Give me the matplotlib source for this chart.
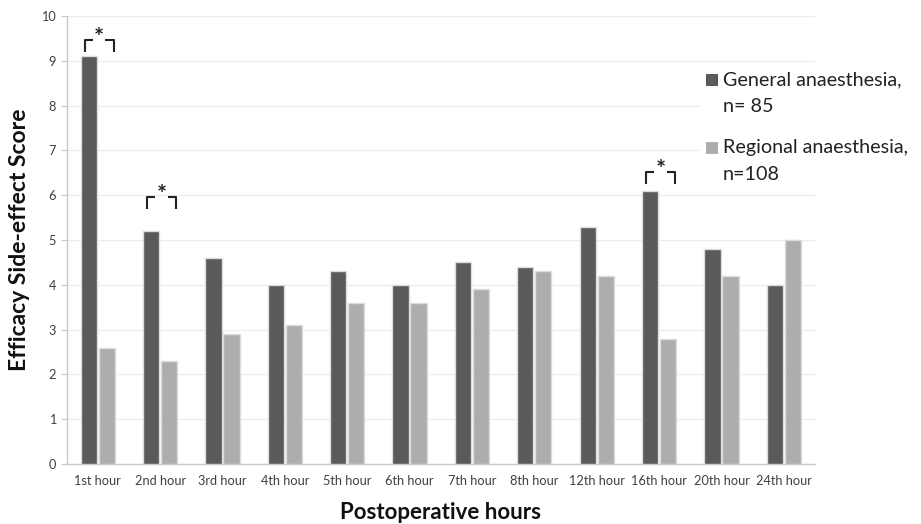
import matplotlib
matplotlib.use("Agg")
import matplotlib.pyplot as plt
from matplotlib.patches import Rectangle
import numpy as np

categories = ["1st hour", "2nd hour", "3rd hour", "4th hour", "5th hour", "6th hour",
              "7th hour", "8th hour", "12th hour", "16th hour", "20th hour", "24th hour"]
general = [9.1, 5.2, 4.6, 4.0, 4.3, 4.0, 4.5, 4.4, 5.3, 6.1, 4.8, 4.0]
regional = [2.6, 2.3, 2.9, 3.1, 3.6, 3.6, 3.9, 4.3, 4.2, 2.8, 4.2, 5.0]
general_label = "General anaesthesia,"
general_n = "n= 85"
regional_label = "Regional anaesthesia,"
regional_n = "n=108"
sig_groups = [0, 1, 9]
sig_levels = [9.46, 5.96, 6.52]

plt.rcParams['font.family'] = ['Lato', 'DejaVu Sans']

dark = "#5a5a5a"
light = "#adadad"
edge = "#dcdcdc"

fig = plt.figure(figsize=(9.21, 5.24), dpi=100)
ax = fig.add_axes([66.5/921, 1-464/524, (815-66.5)/921, (464-16)/524])

x = np.arange(len(categories))
w = 0.26
off = 0.145
ax.bar(x - off, general, width=w, color=dark, edgecolor=edge, linewidth=1.0, zorder=3)
ax.bar(x + off, regional, width=w, color=light, edgecolor=edge, linewidth=1.0, zorder=3)

ax.set_xlim(-0.5, len(categories) - 0.5)
ax.set_ylim(0, 10)
ax.set_yticks(range(0, 11))
ax.set_xticks(x)
ax.set_xticklabels(categories, fontsize=9.2, color="#404040")
ax.tick_params(axis='y', labelsize=9.2, labelcolor="#404040", length=4, color="#c8c8c8")
ax.tick_params(axis='x', length=0, pad=8)
ax.yaxis.grid(True, color="#ececec", linewidth=0.9, zorder=0)
ax.set_axisbelow(True)
for s in ["top", "right"]:
    ax.spines[s].set_visible(False)
for s in ["left", "bottom"]:
    ax.spines[s].set_color("#c8c8c8")
    ax.spines[s].set_linewidth(1.0)

ax.set_ylabel("Efficacy Side-effect Score", fontsize=16.5, fontweight="bold", color="#111111", labelpad=8)
ax.set_xlabel("Postoperative hours", fontsize=16, fontweight="bold", color="#111111", labelpad=11)

# significance brackets
for g, lvl in zip(sig_groups, sig_levels):
    xl = g - off - w / 2 + 0.07
    xr = g + off + w / 2 - 0.02
    xc = (xl + xr) / 2
    gap = 0.1
    drop = 0.26
    ax.plot([xl, xl, xc - gap], [lvl - drop, lvl, lvl], color="#222222", lw=1.5, zorder=4, solid_capstyle="butt")
    ax.plot([xc + gap, xr, xr], [lvl, lvl, lvl - drop], color="#222222", lw=1.5, zorder=4, solid_capstyle="butt")
    ax.text(xc, lvl - 0.22, "*", ha="center", va="bottom", fontsize=17, fontweight="bold", color="#222222", zorder=5)

# legend (manual, figure coordinates)
def fx(px):
    return px / 921
def fy(py):
    return 1 - py / 524

lg_bg = Rectangle((fx(700), fy(188)), fx(921) - fx(700), fy(62) - fy(188), transform=fig.transFigure,
                  facecolor="white", edgecolor="none", zorder=5)
fig.patches.append(lg_bg)
for col, lab, nn, py in [(dark, general_label, general_n, 80), (light, regional_label, regional_n, 148)]:
    sq = Rectangle((fx(706), fy(py + 6)), fx(12), 12 / 524, transform=fig.transFigure,
                   facecolor=col, edgecolor="none", zorder=6)
    fig.patches.append(sq)
    fig.text(fx(723), fy(py), lab, fontsize=14.2, color="#222222", va="center", ha="left", zorder=7)
    fig.text(fx(723), fy(py + 27), nn, fontsize=14.2, color="#222222", va="center", ha="left", zorder=7)

fig.savefig("out.png", dpi=100)
